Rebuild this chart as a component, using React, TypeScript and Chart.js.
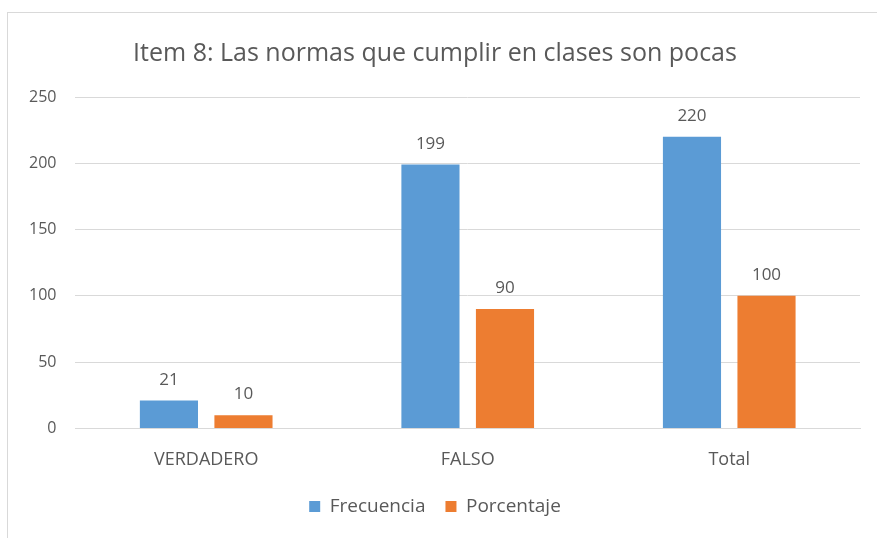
import React, { useEffect, useRef } from "react";
import { Chart, registerables } from "chart.js";

Chart.register(...registerables);

const categories = ["VERDADERO", "FALSO", "Total"];
const frecuencia = [21, 199, 220];
const porcentaje = [10, 90, 100];
const seriesNames = ["Frecuencia", "Porcentaje"];
const titleText = "Item 8: Las normas que cumplir en clases son pocas";

const FONT = "'Open Sans', 'Noto Sans', sans-serif";
const TEXT = "#595959";

const valueLabels = {
  id: "valueLabels",
  afterDatasetsDraw(chart: any) {
    const ctx = chart.ctx;
    ctx.save();
    ctx.font = `17px ${FONT}`;
    ctx.fillStyle = TEXT;
    ctx.textAlign = "center";
    ctx.textBaseline = "bottom";
    chart.data.datasets.forEach((ds: any, i: number) => {
      const meta = chart.getDatasetMeta(i);
      meta.data.forEach((bar: any, j: number) => {
        ctx.fillText(String(ds.data[j]), bar.x, bar.y - 12);
      });
    });
    ctx.restore();
  },
};

export default function App() {
  const ref = useRef<HTMLCanvasElement>(null);
  useEffect(() => {
    if (!ref.current) return;
    const chart = new Chart(ref.current, {
      type: "bar",
      data: {
        labels: categories,
        datasets: [
          { label: seriesNames[0], data: frecuencia, backgroundColor: "#5b9bd5" },
          { label: seriesNames[1], data: porcentaje, backgroundColor: "#ed7d31" },
        ],
      },
      options: {
        animation: false,
        responsive: true,
        maintainAspectRatio: false,
        datasets: { bar: { categoryPercentage: 0.57, barPercentage: 0.78 } },
        layout: { padding: { left: 2, right: 18, top: 26, bottom: 15 } },
        plugins: {
          title: {
            display: true,
            text: titleText,
            color: TEXT,
            font: { family: FONT, size: 25, weight: "normal" },
            padding: { top: 0, bottom: 28 },
          },
          legend: {
            position: "bottom",
            labels: {
              color: TEXT,
              font: { family: FONT, size: 19 },
              boxWidth: 11,
              boxHeight: 11,
              padding: 20,
            },
          },
          tooltip: { enabled: false },
        },
        scales: {
          x: {
            grid: { display: false, drawTicks: false },
            border: { color: "#d9d9d9" },
            ticks: { color: TEXT, font: { family: FONT, size: 18 }, padding: 21 },
            afterFit: (scale: any) => {
              scale.height -= 15;
            },
          },
          y: {
            min: 0,
            max: 250,
            ticks: { stepSize: 50, color: TEXT, font: { family: FONT, size: 16 }, padding: 19 },
            grid: { color: "#d9d9d9", drawTicks: false },
            border: { display: false },
          },
        },
      },
      plugins: [valueLabels],
    });
    return () => chart.destroy();
  }, []);
  return (
    <div
      style={{
        position: "absolute",
        left: 7,
        top: 12,
        width: 872,
        height: 530,
        border: "1px solid #d9d9d9",
        boxSizing: "border-box",
        background: "#fff",
      }}
    >
      <canvas ref={ref} />
    </div>
  );
}
